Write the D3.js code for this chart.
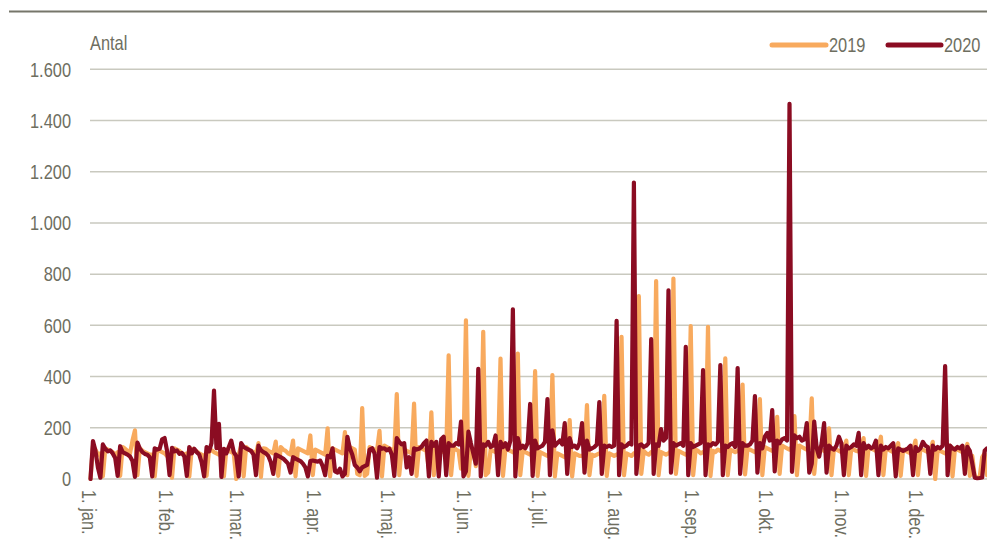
<!DOCTYPE html>
<html><head><meta charset="utf-8">
<script src="https://cdn.jsdelivr.net/npm/d3@7/dist/d3.min.js"></script>
<style>
html,body{margin:0;padding:0;background:#fff;}
svg{display:block;}
text{font-family:"Liberation Sans",Arial,sans-serif;fill:#6e6e5f;}
</style></head><body>
<svg id="chart" width="987" height="549"></svg>
<script>
// Daily counts, axis days 1 Jan .. 31 Dec (366 days), rows of 7 days
const series2019 = [
  0,130,115,95,100,10,120,
  115,110,105,95,105,12,125,
  118,110,100,150,190,15,120,
  110,105,100,95,95,10,115,
  110,105,100,90,85,5,120,
  115,110,100,95,100,10,118,
  110,108,100,95,90,12,115,
  112,105,100,95,100,10,115,
  110,105,100,0,95,130,10,
  125,115,110,105,100,140,8,
  120,118,110,105,100,146,12,
  125,115,110,100,95,150,10,
  120,115,110,105,100,170,15,
  115,110,105,100,95,198,10,
  120,115,110,105,100,183,15,
  125,120,115,20,15,277,12,
  20,125,120,115,110,188,10,
  130,125,120,115,105,332,15,
  120,115,110,105,100,294,12,
  125,120,115,110,40,260,15,
  120,115,110,105,100,483,15,
  125,115,110,40,100,620,12,
  120,110,50,105,110,575,15,
  25,115,110,105,100,470,12,
  120,115,110,105,100,490,15,
  110,105,100,95,90,421,12,
  105,100,95,90,95,406,10,
  100,95,90,85,95,230,10,
  100,95,90,90,95,289,15,
  95,90,95,100,95,325,12,
  100,95,90,95,100,555,15,
  100,95,90,100,105,714,20,
  110,100,95,105,110,773,15,
  105,100,95,100,110,783,20,
  110,105,100,95,105,597,15,
  115,110,100,105,110,594,12,
  110,105,115,110,120,471,15,
  115,110,105,110,115,369,18,
  120,115,110,105,115,312,15,
  125,120,115,110,120,243,20,
  130,125,120,115,125,246,15,
  130,125,120,115,120,315,20,
  125,120,115,110,120,198,15,
  120,115,110,105,115,150,15,
  120,115,110,108,115,160,12,
  125,120,115,110,120,165,15,
  120,115,110,105,115,140,12,
  115,110,105,100,110,150,15,
  120,115,110,105,110,145,0,
  115,110,105,100,110,130,10,
  120,115,110,105,110,137,12,
  90,10,5,8,85,100,15,
  110,90
];
const series2020 = [
  0,148,110,45,5,135,118,
  108,112,100,82,12,128,105,
  100,95,88,70,8,142,118,
  105,98,95,85,10,120,115,
  118,155,160,110,15,122,108,
  112,98,102,88,12,125,100,
  118,105,96,65,10,125,108,
  140,345,120,215,8,118,100,
  125,150,105,90,10,140,125,
  120,115,110,95,15,130,112,
  105,100,90,65,20,95,90,
  85,80,70,60,25,85,80,
  75,70,60,45,10,70,72,
  70,68,72,50,15,90,85,
  120,30,25,40,10,20,165,
  120,95,55,45,30,45,50,
  55,115,120,100,5,125,118,
  120,112,118,95,12,160,145,
  135,140,45,85,20,120,115,
  118,125,140,150,10,145,130,
  145,10,155,165,15,140,130,
  130,140,135,224,10,30,185,
  140,100,60,430,10,135,130,
  145,125,130,170,15,145,125,
  140,115,150,663,10,160,120,
  130,120,140,293,12,150,120,
  125,130,145,312,15,190,130,
  140,150,135,218,20,160,125,
  130,120,140,218,25,150,115,
  120,125,135,300,20,130,125,
  130,125,130,618,15,135,125,
  130,140,135,1158,20,130,135,
  125,130,140,546,20,135,130,
  195,150,160,737,25,140,130,
  135,140,130,516,15,140,125,
  130,135,140,425,15,135,130,
  140,135,145,445,15,130,125,
  135,140,125,433,20,140,130,
  130,135,150,324,25,140,120,
  165,180,150,269,30,150,140,
  155,160,150,1465,28,170,160,
  165,150,155,218,25,60,224,
  120,87,140,218,25,130,120,
  115,130,165,140,15,130,120,
  125,135,130,180,15,140,120,
  130,120,125,150,15,130,115,
  125,120,130,140,10,120,115,
  110,115,120,130,15,125,110,
  120,145,130,125,20,130,115,
  125,120,130,441,15,130,120,
  115,125,120,130,20,126,110,
  60,5,3,4,6,110,120,
  120,60
];
const yTicks = [0,200,400,600,800,1000,1200,1400,1600];
const yTickLabels = ["0","200","400","600","800","1.000","1.200","1.400","1.600"];
const monthLabels = ["1. jan.","1. feb.","1. mar.","1. apr.","1. maj.","1. jun.","1. jul.","1. aug.","1. sep.","1. okt.","1. nov.","1. dec."];
const seriesNames = ["2019","2020"];
const seriesColors = ["#f8aa5e","#8b0c22"];

const SX = 0.82; // condensed look
const svg = d3.select("#chart");
const start = new Date(2020,0,1);
const x = d3.scaleTime().domain([start, new Date(2020,11,31)]).range([90.5, 90.5 + 365*2.47]);
const y = d3.scaleLinear().domain([0,1600]).range([479,69.3]);

// top rule
svg.append("line").attr("x1",9).attr("x2",987).attr("y1",11.5).attr("y2",11.5)
  .attr("stroke","#76766a").attr("stroke-width",2);

// gridlines
svg.append("g").selectAll("line").data(yTicks).join("line")
  .attr("x1",90).attr("x2",987).attr("y1",d=>y(d)).attr("y2",d=>y(d))
  .attr("stroke","#c9c9bf").attr("stroke-width",1.5);

// y labels
svg.append("g").selectAll("text").data(yTicks).join("text")
  .attr("transform",d=>`translate(71,${y(d)}) scale(${SX},1)`)
  .attr("dy","0.36em").attr("text-anchor","end")
  .attr("font-size",20).text((d,i)=>yTickLabels[i]);

svg.append("text").attr("transform",`translate(90,50) scale(${SX},1)`).attr("font-size",20).text("Antal");

// x labels
const months = d3.timeMonth.range(start, new Date(2021,0,1));
svg.append("g").selectAll("text").data(months).join("text")
  .attr("transform",d=>`translate(${x(d)-1.5},490) rotate(90) scale(${SX},1)`)
  .attr("dy","0.35em").attr("text-anchor","start").attr("font-size",20)
  .text((d,i)=>monthLabels[i]);

// lines
const line = d3.line().x((d,i)=>x(d3.timeDay.offset(start,i))).y(d=>y(d));
[series2019, series2020].forEach((s,k)=>{
  svg.append("path").datum(s).attr("d",line).attr("fill","none")
    .attr("stroke",seriesColors[k]).attr("stroke-width",4.2)
    .attr("stroke-linejoin","round").attr("stroke-linecap","round");
});

// legend
const leg = [{x1:772,x2:826,tx:829},{x1:888,x2:941,tx:944}];
leg.forEach((l,k)=>{
  svg.append("line").attr("x1",l.x1).attr("x2",l.x2).attr("y1",45).attr("y2",45)
    .attr("stroke",seriesColors[k]).attr("stroke-width",5).attr("stroke-linecap","round");
  svg.append("text").attr("transform",`translate(${l.tx},52) scale(${SX},1)`)
    .attr("font-size",20).text(seriesNames[k]);
});
</script>
</body></html>
